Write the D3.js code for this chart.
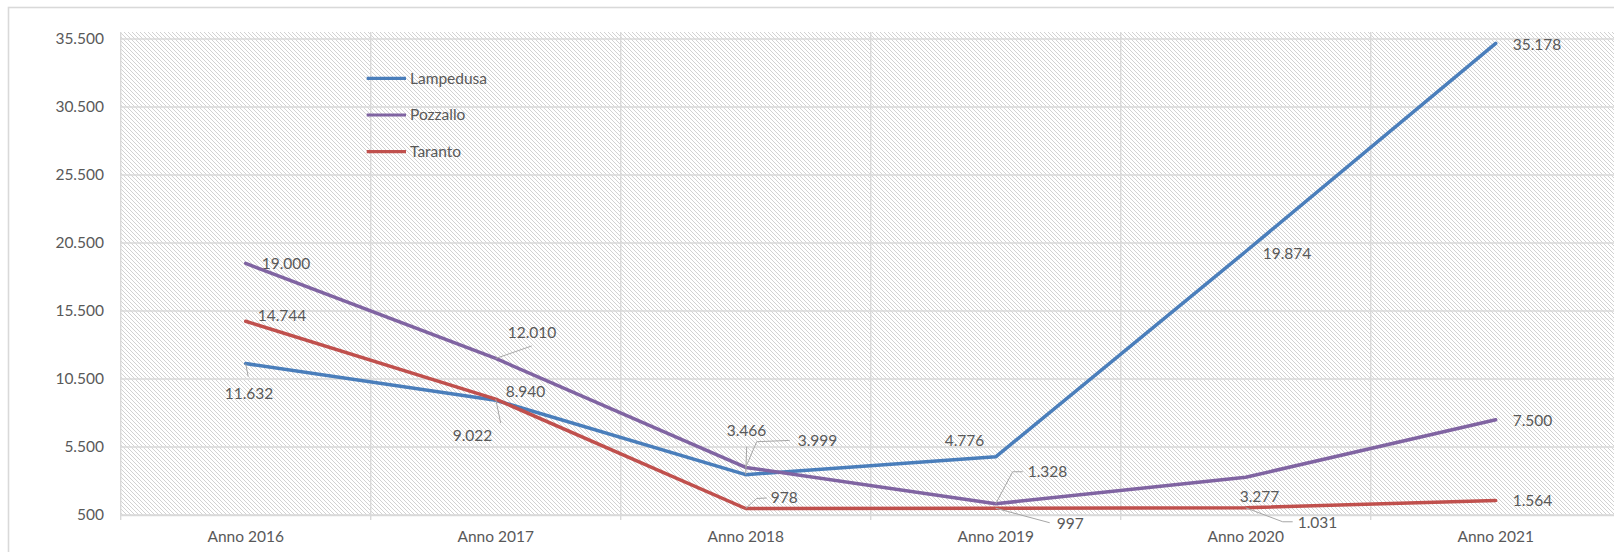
<!DOCTYPE html>
<html>
<head>
<meta charset="utf-8">
<script src="https://cdn.jsdelivr.net/npm/d3@7/dist/d3.min.js"></script>
<style>
  html, body { margin: 0; padding: 0; background: #ffffff; overflow: hidden; }
  svg { display: block; }
  text { font-family: Lato, "Open Sans", sans-serif; fill: #595959; }
</style>
</head>
<body>
<svg id="chart" width="1614" height="552"></svg>
<script>
// ---- data ----
const categories = ["Anno 2016", "Anno 2017", "Anno 2018", "Anno 2019", "Anno 2020", "Anno 2021"];
const seriesNames = ["Lampedusa", "Pozzallo", "Taranto"];
const lampedusa = [11632, 8940, 3466, 4776, 19874, 35178];
const pozzallo  = [19000, 12010, 3999, 1328, 3277, 7500];
const taranto   = [14744, 9022, 978, 997, 1031, 1564];
const yTicks = [500, 5500, 10500, 15500, 20500, 25500, 30500, 35500];

// ---- styling / placement (not data) ----
const colors = ["#4a7ebb", "#8064a2", "#c0504d"];
// label offsets relative to the point: [dx, dy, leader polyline (relative)]
const labelPlacement = [
  [ [-21, 29.5, [[0,0],[2.5,13]]], [10,-8.5,null], [-19,-44,[[0,0],[1,-28]]], [-51,-16,null], [17,2,null], [17,1.6,null] ],
  [ [16, 0.5, null], [12,-25.5,[[0,0],[36,-12.5]]], [52,-26.4,[[0,0],[11,-25.7],[44,-27]]], [32,-32,[[0,0],[17,-32],[27,-32]]], [-6,19,null], [17,1,null] ],
  [ [12, -6, null], [-43,36,[[0,0],[5,24]]], [25,-10.8,[[0,0],[11,-10],[21,-10.5]]], [61,15,[[0,0],[54,14.5]]], [52,15,[[0,0],[37,14],[47,14]]], [17,0.2,null] ]
];

const svg = d3.select("#chart");
const fontSize = 15.5;

// outer chart border
svg.append("rect").attr("x", 8.5).attr("y", 7.5).attr("width", 1640).attr("height", 600)
  .attr("fill", "#ffffff").attr("stroke", "#d9d9d9").attr("stroke-width", 1.6);

// hatch pattern
const defs = svg.append("defs");
const pat = defs.append("pattern").attr("id", "hatch").attr("patternUnits", "userSpaceOnUse")
  .attr("width", 4).attr("height", 4);
pat.append("rect").attr("width", 4).attr("height", 4).attr("fill", "#ffffff");
pat.append("path").attr("d", "M-1,-1 L5,5 M-1,3 L1,5 M3,-1 L5,1")
  .attr("stroke", "#d2d2d2").attr("stroke-width", 1);

const plotLeft = 120.7, plotRight = 1620.7, plotTop = 32, yTop = 39, yBottom = 515;

const x = d3.scaleBand().domain(categories).range([plotLeft, plotRight]).paddingInner(0).paddingOuter(0);
const cx = c => x(c) + x.bandwidth() / 2;
const y = d3.scaleLinear().domain([500, 35500]).range([yBottom, yTop]);

svg.append("rect").attr("x", plotLeft).attr("y", plotTop)
  .attr("width", plotRight - plotLeft).attr("height", yBottom - plotTop)
  .attr("fill", "url(#hatch)");

// horizontal gridlines
svg.append("g").selectAll("line").data(yTicks).join("line")
  .attr("x1", plotLeft).attr("x2", plotRight)
  .attr("y1", d => y(d)).attr("y2", d => y(d))
  .attr("stroke", "#d9d9d9").attr("stroke-width", 1.4);

// vertical gridlines at category boundaries (+ tick marks)
const bounds = categories.map(c => x(c)).concat([plotRight]);
svg.append("g").selectAll("line").data(bounds).join("line")
  .attr("x1", d => d).attr("x2", d => d)
  .attr("y1", plotTop).attr("y2", yBottom + 5)
  .attr("stroke", "#d9d9d9").attr("stroke-width", 1.4);

// y axis labels
const yAxis = d3.axisLeft(y).tickValues(yTicks).tickSize(0).tickPadding(0)
  .tickFormat(d => d3.format(",")(d).replace(/,/g, "."));
const gy = svg.append("g").attr("transform", `translate(${104},0)`).call(yAxis);
gy.select(".domain").remove();
gy.selectAll("text").style("font-size", fontSize + "px").style("font-family", "Lato, sans-serif").attr("fill", "#595959");

// x axis labels
const xAxis = d3.axisBottom(x).tickSize(0).tickPadding(0);
const gx = svg.append("g").attr("transform", `translate(0,${yBottom})`).call(xAxis);
gx.select(".domain").attr("stroke", "#d9d9d9").attr("stroke-width", 1.4);
gx.selectAll("text").style("font-size", fontSize + "px").style("font-family", "Lato, sans-serif")
  .attr("fill", "#595959").attr("y", 22).attr("dy", "0.35em");

// lines
const allSeries = [lampedusa, pozzallo, taranto];
const line = d3.line().x((d, i) => cx(categories[i])).y(d => y(d));
allSeries.forEach((s, k) => {
  svg.append("path").datum(s).attr("d", line)
    .attr("fill", "none").attr("stroke", colors[k]).attr("stroke-width", 3.5)
    .attr("stroke-linejoin", "round").attr("stroke-linecap", "round");
});

// leaders and labels
const fmt = v => d3.format(",")(v).replace(/,/g, ".");
allSeries.forEach((s, k) => {
  s.forEach((v, i) => {
    const px = cx(categories[i]), py = y(v);
    const [dx, dy, leader] = labelPlacement[k][i];
    if (leader) {
      svg.append("polyline")
        .attr("points", leader.map(p => `${px + p[0]},${py + p[1]}`).join(" "))
        .attr("fill", "none").attr("stroke", "#a6a6a6").attr("stroke-width", 1);
    }
    svg.append("text").attr("x", px + dx).attr("y", py + dy).attr("dy", "0.35em")
      .style("font-size", fontSize + "px").text(fmt(v));
  });
});

// legend
const legend = svg.append("g");
seriesNames.forEach((n, k) => {
  const ly = 78.3 + k * 36.7;
  legend.append("line").attr("x1", 366.7).attr("x2", 406).attr("y1", ly).attr("y2", ly)
    .attr("stroke", colors[k]).attr("stroke-width", 3.2);
  legend.append("text").attr("x", 410).attr("y", ly).attr("dy", "0.35em")
    .style("font-size", fontSize + "px").text(n);
});
</script>
</body>
</html>
